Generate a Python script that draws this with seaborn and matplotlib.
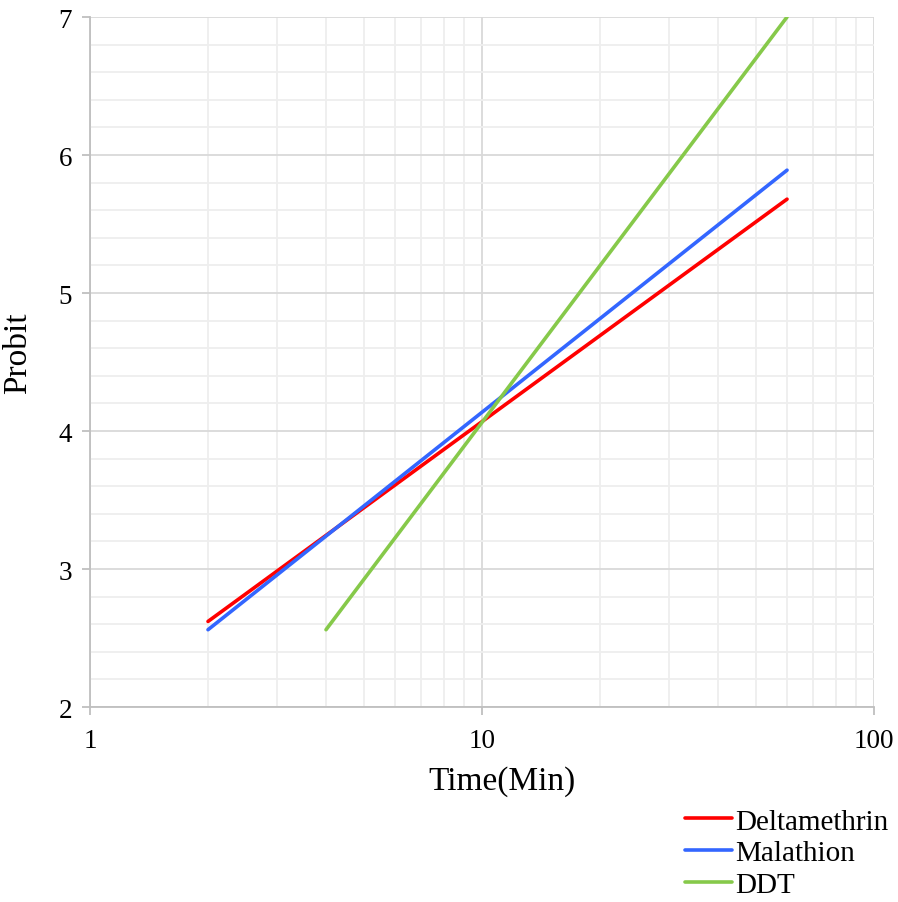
import numpy as np
import pandas as pd
import matplotlib.pyplot as plt
from matplotlib.ticker import LogLocator, FixedLocator, NullFormatter, FuncFormatter
import seaborn as sns

# fitted probit lines (endpoints)
insecticides = ['Deltamethrin', 'Malathion', 'DDT']
time_min = {'Deltamethrin': [2, 60], 'Malathion': [2, 60], 'DDT': [4, 60]}
probit = {'Deltamethrin': [2.62, 5.68], 'Malathion': [2.56, 5.89], 'DDT': [2.56, 7.0]}
colors = ['#ff0000', '#3366ff', '#86c94a']

rows = []
for name in insecticides:
    for t, p in zip(time_min[name], probit[name]):
        rows.append({'Insecticide': name, 'Time': t, 'Probit': p})
df = pd.DataFrame(rows)

sns.set_style('white')
plt.rcParams['font.family'] = ['Liberation Serif', 'DejaVu Serif']
plt.rcParams['text.color'] = 'black'
plt.rcParams['xtick.color'] = 'black'
plt.rcParams['ytick.color'] = 'black'
plt.rcParams['axes.labelcolor'] = 'black'

fig = plt.figure(figsize=(8.98, 9.03), dpi=100)
ax = fig.add_axes([90 / 898, 1 - 708 / 903, 784 / 898, 690 / 903])

sns.lineplot(data=df, x='Time', y='Probit', hue='Insecticide', palette=colors,
             hue_order=insecticides, linewidth=2.6, ax=ax, legend=False,
             solid_capstyle='round')

ax.set_xscale('log')
ax.set_xlim(1, 100)
ax.set_ylim(2, 7)
ax.xaxis.set_major_locator(FixedLocator([1, 10, 100]))
ax.xaxis.set_major_formatter(FuncFormatter(lambda v, _: f'{v:g}'))
ax.xaxis.set_minor_locator(LogLocator(base=10, subs=np.arange(2, 10)))
ax.xaxis.set_minor_formatter(NullFormatter())
ax.set_yticks([2, 3, 4, 5, 6, 7])
ax.set_yticks(np.arange(2, 7.01, 0.2), minor=True)

ax.grid(which='major', color='#d9d9d9', linewidth=1.3)
ax.grid(which='minor', color='#eeeeee', linewidth=1.3)
ax.set_axisbelow(True)

for side in ['top', 'right']:
    ax.spines[side].set_visible(False)
for side in ['left', 'bottom']:
    ax.spines[side].set_color('#bfbfbf')
    ax.spines[side].set_linewidth(1.3)

ax.tick_params(which='major', length=6, width=1.3, color='#bfbfbf',
               labelsize=19.5, bottom=True, left=True)
ax.tick_params(which='minor', length=0)
ax.tick_params(axis='x', pad=9)
ax.tick_params(axis='y', pad=7)

ax.set_xlabel('Time(Min)', fontsize=24)
ax.set_ylabel('Probit', fontsize=24)
ax.xaxis.set_label_coords(0.526, -0.085)
ax.yaxis.set_label_coords(-0.072, 0.514)

handles = [plt.Line2D([], [], color=c, linewidth=2.6) for c in colors]
fig.legend(handles, insecticides, loc='lower right',
           bbox_to_anchor=(888 / 898, 4 / 903),
           frameon=False, fontsize=21, handlelength=1.6, handletextpad=0.1,
           labelspacing=0.18, borderpad=0, borderaxespad=0)

fig.savefig('out.png', dpi=100)
